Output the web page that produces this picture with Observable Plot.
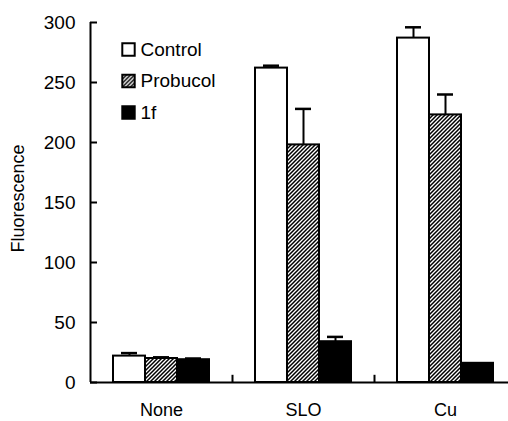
<!DOCTYPE html>
<html><head><meta charset="utf-8">
<script src="https://cdn.jsdelivr.net/npm/d3@7"></script>
<script src="https://cdn.jsdelivr.net/npm/@observablehq/plot@0.6"></script>
<style>body{margin:0;background:#fff}</style>
</head><body><div id="chart"></div>
<script>
const categories = ["None", "SLO", "Cu"];
const seriesNames = ["Control", "Probucol", "1f"];
const controlValues = [22, 262, 287];
const controlErrors = [2.5, 2, 9];
const probucolValues = [20, 198, 223];
const probucolErrors = [1, 30, 17];
const f1Values = [19, 34, 16];
const f1Errors = [1, 4, 0];
const yTicks = [0, 50, 100, 150, 200, 250, 300];

const seriesValues = [controlValues, probucolValues, f1Values];
const seriesErrors = [controlErrors, probucolErrors, f1Errors];
const fills = ["white", "url(#hatch)", "black"];

const BW = 142, BAR = 32, GAP0 = 23;
const marks = [];
seriesNames.forEach((name, i) => {
  const rows = categories.map((c, j) => ({cat: c, value: seriesValues[i][j], err: seriesErrors[i][j]}));
  const left = GAP0 + BAR * i;
  const center = left + BAR / 2;
  marks.push(Plot.barY(rows, {x: "cat", y: "value", fill: fills[i], stroke: "black", strokeWidth: 2,
    insetLeft: left, insetRight: BW - left - BAR}));
  const er = rows.filter(d => d.err > 0);
  marks.push(Plot.ruleX(er, {x: "cat", y1: "value", y2: d => d.value + d.err, dx: center - BW / 2, strokeWidth: 2}));
  marks.push(Plot.tickY(er, {x: "cat", y: d => d.value + d.err, strokeWidth: 2.5,
    insetLeft: center - 8, insetRight: BW - center - 8}));
  // legend
  marks.push(Plot.dot([name], {frameAnchor: "top-left", dx: 38, dy: 27 + 31.5 * i, symbol: "square", r: 7,
    fill: fills[i], stroke: "black", strokeWidth: 2}));
  marks.push(Plot.text([name], {frameAnchor: "top-left", dx: 50, dy: 27 + 31.5 * i, text: d => d,
    textAnchor: "start", lineAnchor: "middle", fontSize: 19, fill: "black"}));
});

const plot = Plot.plot({
  width: 508, height: 421,
  marginLeft: 90, marginRight: 0, marginTop: 22, marginBottom: 39,
  x: {type: "band", domain: categories, range: [90, 516], padding: 0, label: null, axis: null},
  y: {domain: [0, 300], label: null, axis: null},
  style: {fontFamily: "Liberation Sans, Arial, sans-serif", background: "white", color: "black", overflow: "visible"},
  marks: [
    Plot.text(yTicks, {y: d => d, text: d => String(d), frameAnchor: "left", dx: -15, textAnchor: "end",
      lineAnchor: "middle", fontSize: 19, fill: "black"}),
    Plot.text(categories, {x: d => d, text: d => d, frameAnchor: "bottom", dy: 21, lineAnchor: "top",
      fontSize: 18, fill: "black"}),
    Plot.text(["Fluorescence"], {frameAnchor: "left", rotate: -90, dx: -72, dy: -4, text: d => d,
      textAnchor: "middle", lineAnchor: "middle", fontSize: 18, fill: "black"}),
    Plot.tickY(yTicks, {y: d => d, insetRight: 508 - 90 - 7, strokeWidth: 2}),
    ...marks,
    Plot.ruleY([0], {strokeWidth: 2}),
    Plot.ruleX(["None"], {x: d => d, dx: -BW / 2, y1: 0, y2: 300, strokeWidth: 2}),
    Plot.ruleX(["SLO", "Cu"], {x: d => d, dx: -BW / 2, y1: 0, y2: 6, strokeWidth: 2})
  ]
});

const ns = "http://www.w3.org/2000/svg";
const defs = document.createElementNS(ns, "defs");
defs.innerHTML = '<pattern id="hatch" patternUnits="userSpaceOnUse" width="4" height="4">' +
  '<rect width="4" height="4" fill="white"/>' +
  '<path d="M-1,1 l2,-2 M0,4 l4,-4 M3,5 l2,-2" stroke="black" stroke-width="1.5"/></pattern>';
plot.insertBefore(defs, plot.firstChild);
document.getElementById("chart").appendChild(plot);
</script></body></html>
